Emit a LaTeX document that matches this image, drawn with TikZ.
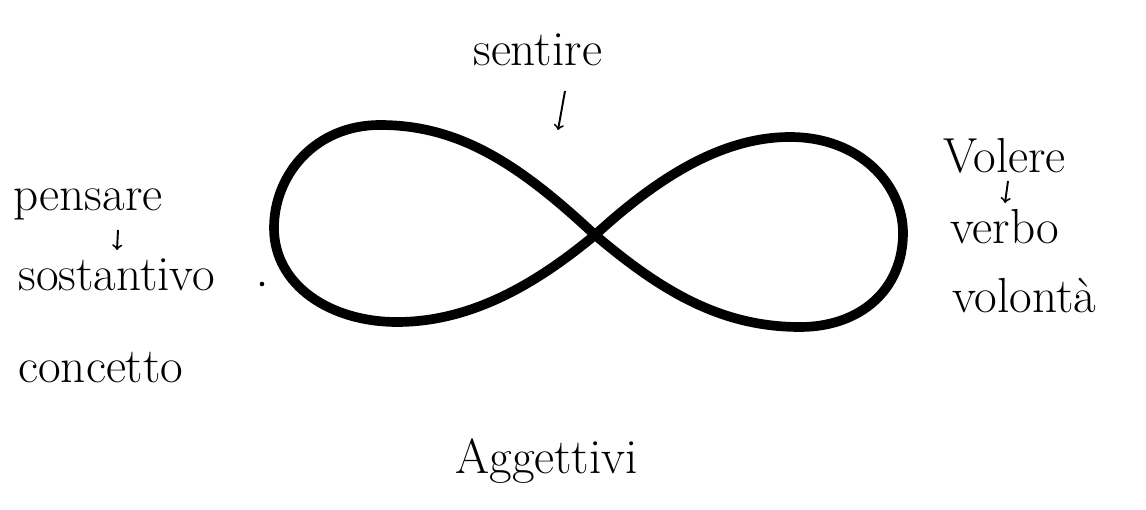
\documentclass[tikz,border=0pt]{standalone}
\usepackage{amsmath}
\usepackage{amssymb}
\usepackage{tikz}

\begin{document}
\begin{tikzpicture}[x=0.02cm, y=-0.02cm,
    word/.style={anchor=base west, inner sep=0pt, font=\fontsize{28}{34}\selectfont},
    thin arrow/.style={->, line width=1.1pt}]
            \useasboundingbox (0,0) rectangle (1146,510);

            \coordinate (C) at (595,235);
            \coordinate (T1) at (380,125);
            \coordinate (L) at (274,228);
            \coordinate (B1) at (397,322);
            \coordinate (T2) at (790,137);
            \coordinate (R) at (903,233);
            \coordinate (B2) at (800,327);
            \coordinate (dot) at (262,284);

            \draw[line width=5.5pt, line join=round]
                (C) .. controls (520,165) and (460,125) .. (T1)
                    .. controls (315,125) and (274,175) .. (L)
                    .. controls (274,285) and (330,322) .. (B1)
                    .. controls (470,322) and (535,285) .. (C)
                    .. controls (655,180) and (720,137) .. (T2)
                    .. controls (860,137) and (903,185) .. (R)
                    .. controls (903,290) and (860,327) .. (B2)
                    .. controls (720,327) and (660,290) .. (C);

            \node[word] (sentire) at (473,66) {sentire};
            \node[word] (volere) at (943,173) {Volere};
            \node[word] (verbo) at (950,243) {verbo};
            \node[word] (volonta) at (952,312) {volontà};
            \node[word] (pensare) at (13,210) {pensare};
            \node[word] (sostantivo) at (18,290) {sostantivo};
            \node[word] (concetto) at (18,382) {concetto};
            \node[word] (aggettivi) at (455,473) {Aggettivi};

            \coordinate (s1) at (565,91);
            \coordinate (s2) at (558,130);
            \coordinate (p1) at (118,230);
            \coordinate (p2) at (117,250);
            \coordinate (v1) at (1008,181);
            \coordinate (v2) at (1005,203);

            \draw[thin arrow] (s1)--(s2);
            \draw[thin arrow] (p1)--(p2);
            \draw[thin arrow] (v1)--(v2);
            \fill (dot) circle (1.3pt);
        \end{tikzpicture}
\end{document}
